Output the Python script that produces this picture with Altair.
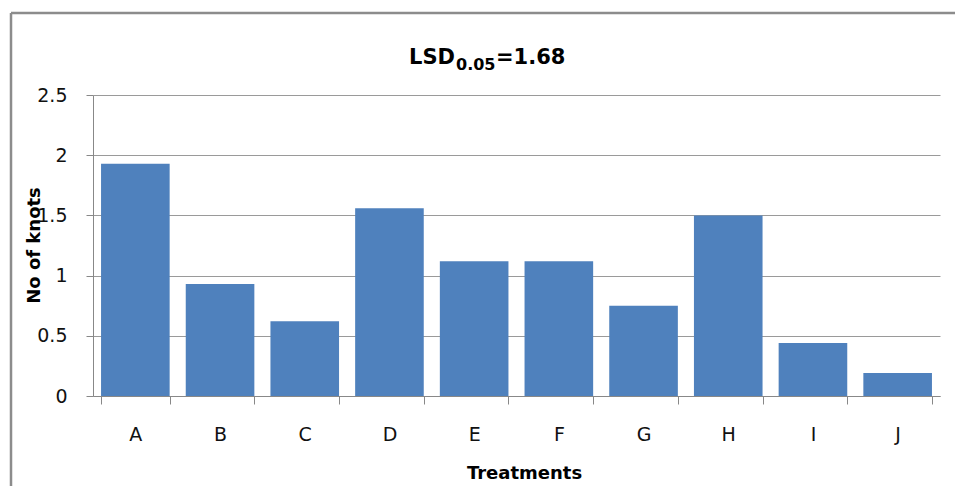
import altair as alt
import pandas as pd

treatments = ["A", "B", "C", "D", "E", "F", "G", "H", "I", "J"]
knots = [1.93, 0.93, 0.62, 1.56, 1.12, 1.12, 0.75, 1.50, 0.44, 0.19]
y_ticks = [0, 0.5, 1, 1.5, 2, 2.5]
title_main = ["LSD"]
title_sub = ["0.05"]
title_tail = ["=1.68"]
x_title = "Treatments"
y_title = "No of knots"

FONT = "DejaVu Sans"
AXIS_GREY = "#888888"
GRID_GREY = "#9a9a9a"

df = pd.DataFrame({"Treatment": treatments, "Knots": knots})

bars = alt.Chart(df).mark_bar(color="#4F81BD").encode(
    x=alt.X(
        "Treatment:N",
        sort=treatments,
        scale=alt.Scale(paddingInner=0.19, paddingOuter=0.095),
        axis=alt.Axis(
            title=x_title,
            labelAngle=0,
            tickBand="extent",
            grid=False,
            domainColor=AXIS_GREY,
            tickColor=AXIS_GREY,
            tickSize=8,
            labelPadding=21,
            labelFont=FONT,
            labelFontSize=19,
            labelColor="#111111",
            titleFont=FONT,
            titleFontSize=18,
            titleFontWeight="bold",
            titleColor="black",
            titleX=431,
            titleY=82,
            titleBaseline="alphabetic",
            titleAlign="center",
        ),
    ),
    y=alt.Y(
        "Knots:Q",
        scale=alt.Scale(domain=[0, 2.5], nice=False),
        axis=alt.Axis(
            title=y_title,
            values=y_ticks,
            format="~g",
            grid=True,
            gridColor=GRID_GREY,
            gridWidth=1,
            domainColor=AXIS_GREY,
            tickColor=AXIS_GREY,
            tickSize=7,
            labelPadding=19,
            labelFont=FONT,
            labelFontSize=19,
            labelColor="#111111",
            titleFont=FONT,
            titleFontSize=18,
            titleFontWeight="bold",
            titleColor="black",
            titleAngle=270,
            titleX=-59,
            titleY=150,
            titleAlign="center",
            titleBaseline="middle",
        ),
    ),
)

t1 = alt.Chart(pd.DataFrame({"t": title_main})).mark_text(
    font=FONT, fontSize=21, fontWeight="bold", align="right", color="black"
).encode(text="t:N", x=alt.value(362), y=alt.value(-37))

t2 = alt.Chart(pd.DataFrame({"t": title_sub})).mark_text(
    font=FONT, fontSize=16, fontWeight="bold", align="left", color="black"
).encode(text="t:N", x=alt.value(363), y=alt.value(-30))

t3 = alt.Chart(pd.DataFrame({"t": title_tail})).mark_text(
    font=FONT, fontSize=21, fontWeight="bold", align="left", color="black"
).encode(text="t:N", x=alt.value(403), y=alt.value(-37))

frame = pd.DataFrame({"k": [0]})
left_line = alt.Chart(frame).mark_rule(color="#8c8c8c", strokeWidth=2.5).encode(
    x=alt.value(-82), y=alt.value(-82), y2=alt.value(391)
)
top_line = alt.Chart(frame).mark_rule(color="#8c8c8c", strokeWidth=2.5).encode(
    x=alt.value(-82), x2=alt.value(862), y=alt.value(-82)
)

chart = alt.layer(bars, t1, t2, t3, left_line, top_line).properties(
    width=847,
    height=301,
    padding={"left": 93, "top": 95, "right": 15, "bottom": 90},
    autosize=alt.AutoSizeParams(type="none"),
    background="white",
).configure_view(stroke=None)

chart.save("out.html", embed_options={"renderer": "svg", "actions": False})
